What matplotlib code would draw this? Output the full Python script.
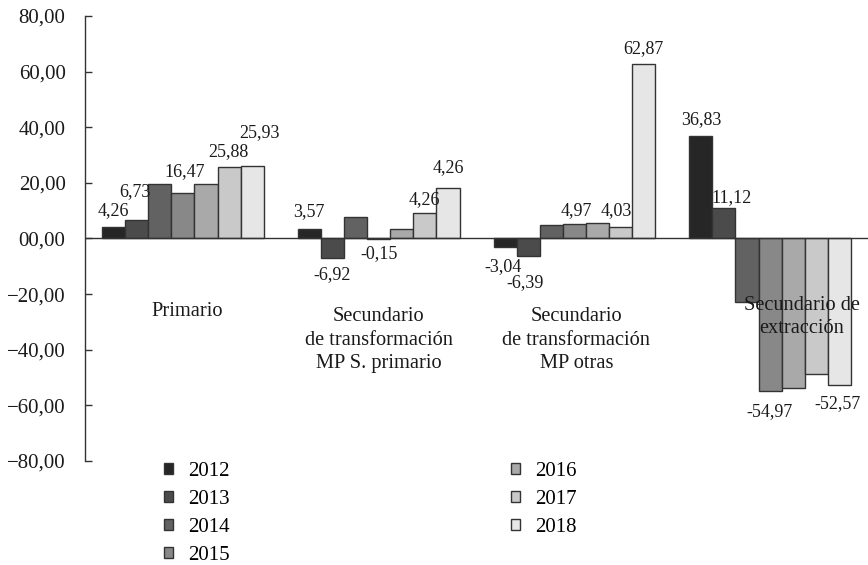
import numpy as np
import matplotlib
matplotlib.use('Agg')
import matplotlib.pyplot as plt

plt.rcParams['font.family'] = ['Liberation Serif', 'DejaVu Serif']

categories = ['Primario',
              'Secundario\nde transformación\nMP S. primario',
              'Secundario\nde transformación\nMP otras',
              'Secundario de\nextracción']
years = ['2012', '2013', '2014', '2015', '2016', '2017', '2018']

v2012 = [4.26, 3.57, -3.04, 36.83]
v2013 = [6.73, -6.92, -6.39, 11.12]
v2014 = [19.6, 7.7, 5.0, -23.0]
v2015 = [16.47, -0.15, 5.2, -54.97]
v2016 = [19.6, 3.3, 5.6, -53.7]
v2017 = [25.88, 9.3, 4.03, -48.9]
v2018 = [25.93, 18.1, 62.87, -52.57]
series = [v2012, v2013, v2014, v2015, v2016, v2017, v2018]

# etiquetas tal como aparecen en el original
label_cat = [0, 0, 0, 0, 0, 1, 1, 1, 1, 1, 2, 2, 2, 2, 2, 3, 3, 3, 3]
label_year = [0, 1, 3, 5, 6, 0, 1, 3, 5, 6, 0, 1, 3, 5, 6, 0, 1, 3, 6]
label_text = ['4,26', '6,73', '16,47', '25,88', '25,93',
              '3,57', '-6,92', '-0,15', '4,26', '4,26',
              '-3,04', '-6,39', '4,97', '4,03', '62,87',
              '36,83', '11,12', '-54,97', '-52,57']
label_dy = [16, 28, 21, 15, 34, 17, -17, -15, 13, 21, -20, -26, 13, 17, 15, 16, 10, -20, -19]
label_dx = [0, -2, 2, -1, 7, -1, 0, 0, 0, 0, -2, -3, 2, -4, 0, 0, 8, -1, -2]

colors = ['#262626', '#4b4b4b', '#626262', '#888888', '#a9a9a9', '#c9c9c9', '#e6e6e6']
edge = '#333333'

fig = plt.figure(figsize=(8.68, 5.65), dpi=100)
ax = fig.add_axes([0.098, 0.1841, 0.902, 0.7876])

x = np.arange(len(categories))
w = 0.118
for i, vals in enumerate(series):
    ax.bar(x + (i - 3) * w, vals, w, color=colors[i], edgecolor=edge,
           linewidth=1, label=years[i], zorder=2)

for c, yi, t, dy, dx in zip(label_cat, label_year, label_text, label_dy, label_dx):
    val = series[yi][c]
    ax.annotate(t, xy=(x[c] + (yi - 3) * w, val), xytext=(dx, dy),
                textcoords='offset pixels', ha='center', va='center',
                fontsize=13, color='#1a1a1a', zorder=4)

ax.axhline(0, color=edge, linewidth=1, zorder=3)

cat_y = [-26.3, -36.5, -36.5, -28.3]
cat_dx = [0.02, 0, 0.01, 0.16]
for i, name in enumerate(categories):
    ax.text(x[i] + cat_dx[i], cat_y[i], name, ha='center', va='center',
            fontsize=14.7, color='#1a1a1a', linespacing=1.3, zorder=5)

ticks = np.arange(-80, 81, 20)
ax.set_xlim(-0.5, 3.5)
ax.set_ylim(-80, 80)
ax.set_yticks(ticks)
ax.set_yticklabels([('\u2212' if v < 0 else '') + ('%05.2f' % abs(v)).replace('.', ',') for v in ticks])
ax.yaxis.set_tick_params(direction='in', length=5, width=1, color=edge, pad=14,
                         labelsize=15, labelcolor='#1a1a1a')
ax.set_xticks([])
for s in ['top', 'right', 'bottom']:
    ax.spines[s].set_visible(False)
ax.spines['left'].set_color(edge)
ax.spines['left'].set_linewidth(1)

fig.legend(loc='upper left', bbox_to_anchor=(0.189, 0.183), ncol=2, frameon=False,
           fontsize=15, handlelength=0.45, handleheight=0.45, handletextpad=0.7,
           columnspacing=13.5, labelspacing=0.44, borderpad=0, borderaxespad=0)

fig.savefig('out.png', dpi=100)
